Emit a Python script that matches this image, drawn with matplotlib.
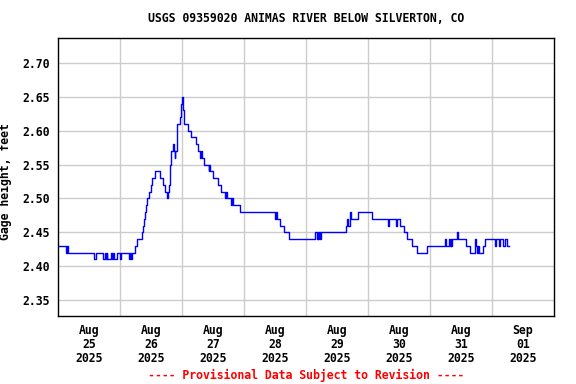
import matplotlib
matplotlib.use("Agg")
import matplotlib.pyplot as plt
import numpy as np

# hours since 2025-08-25 00:00, gage height (ft) held until next point
hours = [0, 3.2, 3.6, 4.0, 13.9, 14.6, 17.5, 18.1, 18.5, 18.8, 19.1, 20.4, 20.8, 21.2, 21.5,
         23.0, 23.9, 24.3, 27.6, 27.9, 28.3, 28.5, 29.8, 30.7, 32.6, 33.0, 33.3, 33.5, 33.9,
         34.6, 35.2, 35.9, 36.5, 37.5, 39.5, 40.6, 41.5, 42.3, 42.6, 43.0, 43.2, 43.5, 43.6,
         43.9, 44.4, 44.9, 45.2, 45.4, 45.9, 46.2, 47.3, 47.6, 48.0, 48.3, 48.5, 48.8, 48.9,
         50.4, 51.6, 53.3, 54.2, 55.1, 55.3, 55.6, 56.6, 58.3, 58.5, 58.8, 60.1, 61.8, 63.1,
         64.6, 65.0, 65.3, 67.1, 67.3, 67.6, 70.6, 84.1, 84.3, 84.6, 85.8, 87.6, 89.4, 99.6,
         100.3, 100.5, 100.8, 101.1, 101.4, 101.8, 111.4, 111.7, 112.4, 112.9, 113.0, 113.3,
         116.1, 121.7, 127.9, 128.2, 131.0, 131.3, 132.2, 134.0, 135.0, 137.0, 138.9, 142.8,
         149.7, 150.0, 151.3, 151.6, 152.0, 152.3, 152.6, 154.6, 154.8, 157.8, 159.5, 161.3,
         161.5, 161.9, 162.2, 162.6, 162.8, 164.6, 165.2, 169.2, 169.7, 170.7, 171.2, 172.4,
         172.9, 173.9, 174.6]
gage = [2.43, 2.42, 2.43, 2.42, 2.41, 2.42, 2.41, 2.42, 2.41, 2.42, 2.41, 2.42, 2.41, 2.42, 2.41,
        2.42, 2.41, 2.42, 2.41, 2.42, 2.41, 2.42, 2.43, 2.44, 2.45, 2.46, 2.47, 2.48, 2.49,
        2.50, 2.51, 2.52, 2.53, 2.54, 2.53, 2.52, 2.51, 2.50, 2.51, 2.52, 2.54, 2.55, 2.56,
        2.57, 2.58, 2.57, 2.56, 2.57, 2.60, 2.61, 2.62, 2.64, 2.65, 2.64, 2.63, 2.62, 2.61,
        2.60, 2.59, 2.58, 2.57, 2.56, 2.57, 2.56, 2.55, 2.54, 2.55, 2.54, 2.53, 2.52, 2.51,
        2.50, 2.51, 2.50, 2.49, 2.50, 2.49, 2.48, 2.47, 2.48, 2.47, 2.46, 2.45, 2.44, 2.45,
        2.44, 2.45, 2.44, 2.45, 2.44, 2.45, 2.46, 2.47, 2.46, 2.47, 2.48, 2.47,
        2.48, 2.47, 2.46, 2.47, 2.46, 2.47, 2.46, 2.45, 2.44, 2.43, 2.42, 2.43,
        2.44, 2.43, 2.44, 2.43, 2.44, 2.43, 2.44, 2.45, 2.44, 2.43, 2.42, 2.43,
        2.44, 2.43, 2.42, 2.43, 2.42, 2.43, 2.44, 2.43, 2.44, 2.43, 2.44, 2.43,
        2.44, 2.43, 2.43]

day_labels = ["Aug\n25\n2025", "Aug\n26\n2025", "Aug\n27\n2025", "Aug\n28\n2025",
              "Aug\n29\n2025", "Aug\n30\n2025", "Aug\n31\n2025", "Sep\n01\n2025"]
y_ticks = [2.35, 2.40, 2.45, 2.50, 2.55, 2.60, 2.65, 2.70]

font = {"family": "DejaVu Sans Mono", "weight": "bold", "size": 8.3}

fig = plt.figure(figsize=(5.76, 3.84), dpi=100)
ax = fig.add_axes([58 / 576, 1 - 316 / 384, 496 / 576, 278 / 384])

days = np.array(hours) / 24.0
ax.plot(days, gage, color="#0000ff", linewidth=1, drawstyle="steps-post")

ax.set_xlim(0, 8)
ax.set_ylim(2.3264, 2.7369)

# grid at midnight, labels at noon
ax.set_xticks(np.arange(1, 8))
ax.set_xticklabels([])
ax.set_xticks(np.arange(len(day_labels)) + 0.5, minor=True)
ax.set_xticklabels(day_labels, minor=True, fontdict=font, linespacing=1.1)
ax.set_yticks(y_ticks)
ax.set_yticklabels(["%.2f" % v for v in y_ticks], fontdict=font)
ax.tick_params(which="both", length=0)
ax.tick_params(axis="x", which="minor", pad=6)
ax.tick_params(axis="y", pad=6)
ax.grid(True, which="major", color="#cccccc", linewidth=1)
ax.set_axisbelow(True)
for s in ax.spines.values():
    s.set_color("black")
    s.set_linewidth(1)

ax.set_ylabel("Gage height, feet", fontdict=font)
ax.yaxis.set_label_coords(-46 / 496, 0.482)
fig.text(306 / 576, 1 - 19 / 384, "USGS 09359020 ANIMAS RIVER BELOW SILVERTON, CO",
         ha="center", va="center", **font)
fig.text(306 / 576, 1 - 375 / 384, "---- Provisional Data Subject to Revision ----",
         ha="center", va="center", color="red", **font)

fig.savefig("out.png", dpi=100)
